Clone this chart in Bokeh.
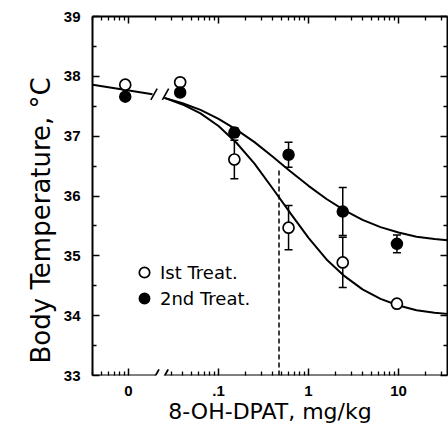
from bokeh.plotting import figure
from bokeh.models import (Range1d, FixedTicker, LogAxis, LinearAxis, Legend,
                          LegendItem, Title)
from bokeh.embed import file_html
from bokeh.resources import INLINE

# ---------------- data ----------------
doses = [0, 0.0375, 0.15, 0.6, 2.4, 9.6]          # mg/kg
ZERO_POS = 0.0092                                  # where dose 0 is drawn
temp_1st = [37.86, 37.90, 36.61, 35.47, 34.89, 34.20]
err_1st = [0, 0, 0.32, 0.37, 0.42, 0]
temp_2nd = [37.66, 37.73, 37.06, 36.69, 35.74, 35.20]
err_2nd = [0, 0, 0.08, 0.21, 0.40, 0.15]

curve_doses = [0.0251, 0.0398, 0.0631, 0.1, 0.158, 0.251, 0.398, 0.631, 1.0,
               1.585, 2.512, 3.981, 6.31, 10.0, 15.85, 25.12, 35.0]
curve_1st = [37.64, 37.53, 37.38, 37.17, 36.89, 36.54, 36.13, 35.71, 35.30,
             34.94, 34.66, 34.44, 34.28, 34.17, 34.09, 34.05, 34.03]
curve_2nd = [37.64, 37.55, 37.44, 37.29, 37.11, 36.90, 36.66, 36.41, 36.17,
             35.95, 35.76, 35.60, 35.48, 35.39, 35.32, 35.28, 35.26]

baseline_doses = [0.004, 0.0185]
baseline_temp = [37.86, 37.70]

ed50_dose = 0.47
ed50_top = 36.45

y_ticks = [33, 34, 35, 36, 37, 38, 39]
x_ticks = [0.01, 0.1, 1, 10]
x_tick_labels = ["0", ".1", "1", "10"]

X_START, X_END = 10 ** -2.4, 10 ** 1.544
Y_START, Y_END = 33, 39
AXIS_BREAK = [0.0200, 0.0253]
CURVE_BREAK = [0.0192, 0.0258]
CURVE_BREAK_T = 37.70

# ---------------- figure ----------------
p = figure(width=448, height=427, x_axis_type="log",
           x_range=Range1d(X_START, X_END), y_range=Range1d(Y_START, Y_END),
           output_backend="svg", toolbar_location=None,
           min_border_left=92, min_border_right=1, min_border_top=16,
           min_border_bottom=52, outline_line_color=None,
           background_fill_color="white", border_fill_color="white")
p.grid.visible = False

minor_x = [k * 10.0 ** d for d in range(-3, 2) for k in range(2, 10)]
minor_x = [m for m in minor_x if X_START <= m <= X_END]
minor_x_bottom = [m for m in minor_x if not (0.011 < m < 0.028)]
minor_y = [v + 0.5 for v in y_ticks[:-1]]

tick_font = "Liberation Sans"

def style_axis(ax, show_labels):
    ax.major_tick_in = 7
    ax.major_tick_out = 0
    ax.minor_tick_in = 4
    ax.minor_tick_out = 0
    ax.major_tick_line_width = 1.5
    ax.minor_tick_line_width = 1.3
    ax.axis_line_width = 2
    ax.major_label_text_font = tick_font
    ax.major_label_text_font_style = "bold"
    if show_labels:
        ax.major_label_text_font_size = "15px"
        ax.major_label_text_color = "black"
    else:
        ax.major_label_text_font_size = "1px"
        ax.major_label_text_color = None
        ax.major_label_standoff = 0
    ax.axis_label_text_font = "DejaVu Sans"
    ax.axis_label_text_font_style = "normal"
    ax.axis_label_text_color = "black"

# bottom x axis
xa = p.xaxis[0]
xa.ticker = FixedTicker(ticks=x_ticks, minor_ticks=minor_x_bottom)
xa.major_label_overrides = dict(zip(x_ticks, x_tick_labels))
style_axis(xa, True)
xa.axis_line_color = None
xa.major_label_standoff = 10
xa.axis_label = "8-OH-DPAT, mg/kg"
xa.axis_label_text_font_size = "22px"
xa.axis_label_standoff = 0

# left y axis
ya = p.yaxis[0]
ya.ticker = FixedTicker(ticks=y_ticks, minor_ticks=minor_y)
style_axis(ya, True)
ya.major_label_standoff = 12

# y axis title, starting a little above the frame bottom as in the reference
p.add_layout(Title(text="Body Temperature, °C", align="left", offset=12,
                   text_font="DejaVu Sans", text_font_size="26px",
                   text_font_style="normal", text_color="black",
                   standoff=9), "left")

# top and right frame axes
top = LogAxis(ticker=FixedTicker(ticks=x_ticks, minor_ticks=minor_x))
style_axis(top, False)
p.add_layout(top, "above")
right = LinearAxis(ticker=FixedTicker(ticks=y_ticks, minor_ticks=minor_y))
style_axis(right, False)
p.add_layout(right, "right")

# broken bottom axis line with break marks
p.segment(x0=[X_START, AXIS_BREAK[1]], y0=[Y_START, Y_START],
          x1=[AXIS_BREAK[0], X_END], y1=[Y_START, Y_START],
          line_color="black", line_width=2)
p.scatter(x=AXIS_BREAK, y=[Y_START, Y_START], marker="dash", size=14,
          angle=61, angle_units="deg", line_color="black", line_width=1.8)

# baseline and fitted curves
p.line(baseline_doses, baseline_temp, line_color="black", line_width=2)
p.scatter(x=CURVE_BREAK, y=[CURVE_BREAK_T, CURVE_BREAK_T], marker="dash",
          size=13, angle=61, angle_units="deg", line_color="black",
          line_width=1.6)
p.line(curve_doses, curve_1st, line_color="black", line_width=2)
p.line(curve_doses, curve_2nd, line_color="black", line_width=2)

# ED50 dashed line
p.segment(x0=[ed50_dose], y0=[Y_START], x1=[ed50_dose], y1=[ed50_top],
          line_color="black", line_width=1.5, line_dash="5 3")

# error bars
x_pos = [ZERO_POS if d == 0 else d for d in doses]
for temps, errs in ((temp_1st, err_1st), (temp_2nd, err_2nd)):
    ex = [x for x, e in zip(x_pos, errs) if e > 0]
    lo = [t - e for t, e in zip(temps, errs) if e > 0]
    hi = [t + e for t, e in zip(temps, errs) if e > 0]
    p.segment(x0=ex, y0=lo, x1=ex, y1=hi, line_color="black", line_width=1.5)
    p.scatter(x=ex + ex, y=lo + hi, marker="dash", size=8,
              line_color="black", line_width=1.5)

# points
r1 = p.scatter(x_pos, temp_1st, marker="circle", size=11, fill_color="white",
               line_color="black", line_width=1.7)
r2 = p.scatter(x_pos, temp_2nd, marker="circle", size=11, fill_color="black",
               line_color="black", line_width=1.5)

legend = Legend(items=[LegendItem(label="Ist Treat.", renderers=[r1]),
                       LegendItem(label="2nd Treat.", renderers=[r2])],
                location=(39, 64), border_line_color=None,
                background_fill_alpha=0, padding=0, margin=0, spacing=0,
                glyph_width=26, glyph_height=26, label_height=26,
                label_standoff=3, label_text_font="DejaVu Sans",
                label_text_font_size="18px", label_text_color="black")
p.add_layout(legend)

open("out.html", "w").write(file_html(p, INLINE))
